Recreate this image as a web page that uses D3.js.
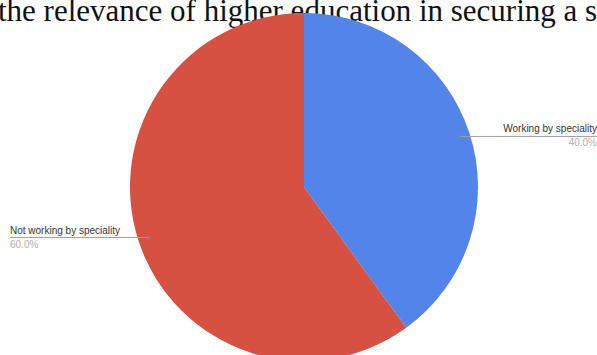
<!DOCTYPE html>
<html>
<head>
<meta charset="utf-8">
<script src="https://cdn.jsdelivr.net/npm/d3@7"></script>
<style>
  html, body { margin: 0; padding: 0; background: #fff; }
  svg { display: block; }
</style>
</head>
<body>
<svg id="chart" width="597" height="355"></svg>
<script>
// Share of graduates working in their field of study
const categories = ["Working by speciality", "Not working by speciality"];
const shares = [40.0, 60.0];
const sliceColors = ["#5284ea", "#d65142"];
const titleText = "the relevance of higher education in securing a s";

const width = 597, height = 355;
const cx = 304, cy = 187, radius = 174;

const svg = d3.select("#chart");

// Title line (clipped by the top edge of the canvas)
svg.append("text")
  .attr("x", -2)
  .attr("y", 21)
  .attr("font-family", "'Liberation Serif', 'Times New Roman', serif")
  .attr("font-size", 31)
  .attr("fill", "#111")
  .text(titleText);

const pie = d3.pie().sort(null).value(d => d.value);
const arcs = pie(categories.map((c, i) => ({ name: c, value: shares[i], color: sliceColors[i] })));
const arc = d3.arc().innerRadius(0).outerRadius(radius);

const g = svg.append("g").attr("transform", `translate(${cx},${cy})`);

g.selectAll("path.slice")
  .data(arcs)
  .join("path")
  .attr("class", "slice")
  .attr("d", arc)
  .attr("fill", d => d.data.color);

// Leader lines with labels, anchored near the outer edge of each slice
const anchorArc = d3.arc().innerRadius(radius * 0.94).outerRadius(radius * 0.94);
const fmt = d3.format(".1f");
const labelFont = "Arial, 'Liberation Sans', sans-serif";

arcs.forEach(d => {
  const [ax, ay] = anchorArc.centroid(d);
  const px = cx + ax, py = cy + ay;
  const right = px > cx;
  const endX = right ? width : 10;
  const grp = svg.append("g");
  grp.append("line")
    .attr("x1", px).attr("y1", py)
    .attr("x2", endX).attr("y2", py)
    .attr("stroke", "#a0a0a0").attr("stroke-width", 1);
  grp.append("circle")
    .attr("cx", px).attr("cy", py).attr("r", 1.4)
    .attr("fill", "#8a8a8a");
  grp.append("text")
    .attr("x", endX)
    .attr("y", py - 4)
    .attr("text-anchor", right ? "end" : "start")
    .attr("font-family", labelFont)
    .attr("font-size", 10)
    .attr("fill", "#333")
    .text(d.data.name);
  grp.append("text")
    .attr("x", endX)
    .attr("y", py + 10)
    .attr("text-anchor", right ? "end" : "start")
    .attr("font-family", labelFont)
    .attr("font-size", 10)
    .attr("fill", "#b0b0b0")
    .text(fmt(d.data.value) + "%");
});
</script>
</body>
</html>
